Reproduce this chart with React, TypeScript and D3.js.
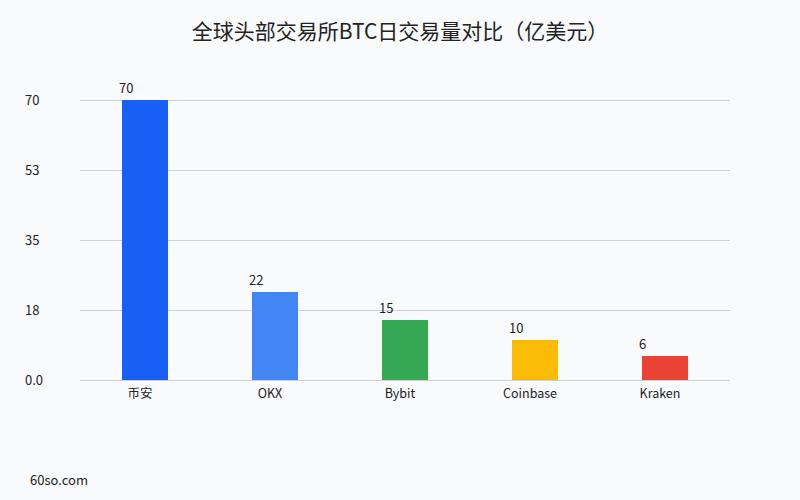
import React, { useEffect, useRef } from "react";
import * as d3 from "d3";

const categories = ["币安", "OKX", "Bybit", "Coinbase", "Kraken"];
const volumes = [70, 22, 15, 10, 6];
const barColors = ["#1a5ff5", "#4285f4", "#34a853", "#fbbc05", "#ea4335"];
const tickValues = [0, 17.5, 35, 52.5, 70];
const tickLabels = ["0.0", "18", "35", "53", "70"];

const FONT = "'Noto Sans CJK SC', 'Noto Sans', sans-serif";

export default function App() {
  const ref = useRef<SVGSVGElement>(null);

  useEffect(() => {
    const svg = d3.select(ref.current);
    svg.selectAll("*").remove();

    const width = 800;
    const height = 500;
    const margin = { top: 100, right: 70, bottom: 120, left: 80 };

    svg.append("rect")
      .attr("width", width)
      .attr("height", height)
      .attr("fill", "#f8fafc");

    const x = d3.scaleBand()
      .domain(categories)
      .range([margin.left, width - margin.right])
      .paddingInner(0.646)
      .paddingOuter(0.323);

    const y = d3.scaleLinear()
      .domain([0, 70])
      .range([height - margin.bottom, margin.top]);

    // grid lines
    svg.append("g")
      .selectAll("line")
      .data(tickValues)
      .enter().append("line")
      .attr("x1", margin.left)
      .attr("x2", width - margin.right)
      .attr("y1", d => Math.round(y(d)) + 0.5)
      .attr("y2", d => Math.round(y(d)) + 0.5)
      .attr("stroke", "#cbd2dc")
      .attr("stroke-width", 1);

    // y tick labels
    svg.append("g")
      .selectAll("text")
      .data(tickValues)
      .enter().append("text")
      .attr("x", 25)
      .attr("y", d => y(d))
      .attr("dy", "0.35em")
      .attr("font-family", FONT)
      .attr("font-size", 13)
      .attr("fill", "#222")
      .text((d, i) => tickLabels[i]);

    // bars
    svg.append("g")
      .selectAll("rect")
      .data(volumes)
      .enter().append("rect")
      .attr("x", (d, i) => x(categories[i])!)
      .attr("y", d => y(d))
      .attr("width", x.bandwidth())
      .attr("height", d => y(0) - y(d))
      .attr("fill", (d, i) => barColors[i]);

    // value labels
    svg.append("g")
      .selectAll("text")
      .data(volumes)
      .enter().append("text")
      .attr("x", (d, i) => x(categories[i])! - 3)
      .attr("y", d => y(d) - 7)
      .attr("font-family", FONT)
      .attr("font-size", 13)
      .attr("fill", "#222")
      .text(d => String(d));

    // category labels
    svg.append("g")
      .selectAll("text")
      .data(categories)
      .enter().append("text")
      .attr("x", d => x(d)! + x.bandwidth() / 2 - 5)
      .attr("y", y(0) + 18)
      .attr("text-anchor", "middle")
      .attr("font-family", FONT)
      .attr("font-size", 12.5)
      .attr("fill", "#222")
      .text(d => d);

    // title
    svg.append("text")
      .attr("x", width / 2)
      .attr("y", 39)
      .attr("text-anchor", "middle")
      .attr("font-family", FONT)
      .attr("font-size", 21)
      .attr("fill", "#222")
      .text("全球头部交易所BTC日交易量对比（亿美元）");

    // footer
    svg.append("text")
      .attr("x", 30)
      .attr("y", 485)
      .attr("font-family", FONT)
      .attr("font-size", 13)
      .attr("fill", "#222")
      .text("60so.com");
  }, []);

  return (
    <svg
      ref={ref}
      width={800}
      height={500}
      style={{ position: "absolute", left: 0, top: 0, display: "block" }}
    />
  );
}
